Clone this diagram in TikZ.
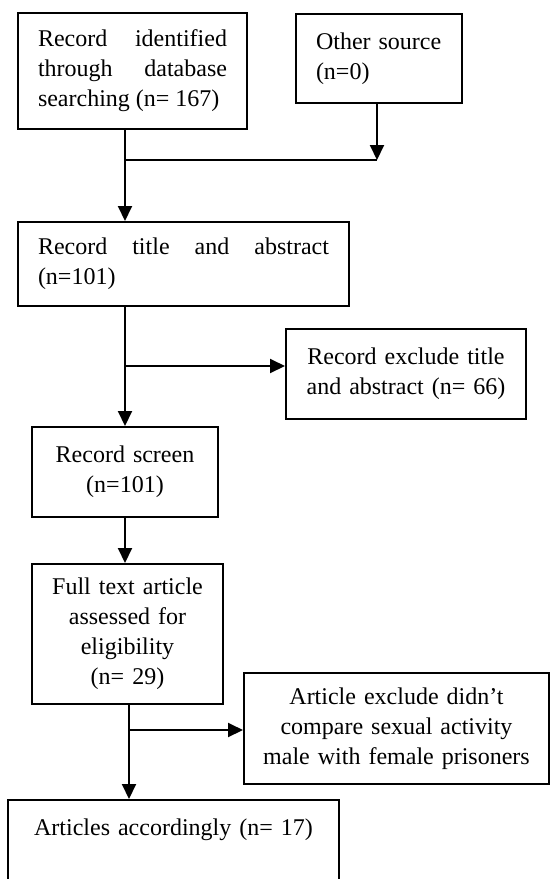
\documentclass[tikz,border=0pt]{standalone}
\usepackage{fontspec}
\setmainfont{Liberation Serif}
\usetikzlibrary{positioning,arrows.meta}
\hyphenpenalty=10000

\begin{document}
\begin{tikzpicture}[x=1pt, y=-1pt,
						stage/.style={rectangle, draw=black!100, line width=2pt, anchor=north west, inner xsep=20pt, inner ysep=0pt, font=\fontsize{24}{30}\selectfont},
						justbox/.style={stage, align=justify},
						leftbox/.style={stage, align=left},
						midbox/.style={stage, align=center},
						arr/.style={line width=2pt, -{Triangle[width=14pt,length=15pt]}}
					]
					\path[use as bounding box, clip] (0,0) rectangle (550,879);
					\node[justbox, text width=189pt, minimum height=116pt] (search) at (17,12) {Record identified\linebreak through database\linebreak searching (n= 167)};
					\node[leftbox, text width=126pt, minimum height=89pt] (other) at (295,13) {Other source\\(n=0)};
					\node[justbox, text width=291pt, minimum height=84pt] (title) at (17,221) {Record title and abstract\linebreak (n=101)};
					\node[midbox, text width=200pt, minimum height=90pt] (exclude1) at (285,328) {Record exclude title\\and abstract (n= 66)};
					\node[midbox, text width=146pt, minimum height=90pt] (screen) at (31,426) {Record screen\\(n=101)};
					\node[midbox, text width=151pt, minimum height=140pt] (full) at (31,563) {Full text article\\assessed for\\eligibility\\(n= 29)};
					\node[midbox, inner xsep=8pt, text width=289pt, minimum height=111pt] (exclude2) at (243,672) {Article exclude didn't\\compare sexual activity\\male with female prisoners};
					\node[midbox, text width=291pt, text height=35pt, text depth=100pt] (final) at (7,799) {Articles accordingly (n= 17)};
					\coordinate (m1) at (125,160);
					\coordinate (m2) at (377,160);
					\coordinate (m3) at (125,366);
					\coordinate (m4) at (129,730);
					\begin{scope}[line width=2pt]
					\draw (search.south -| m1) -- (m1) -- (m2);
					\draw[arr] (other.south -| m2) -- (m2);
					\draw[arr] (m1) -- (title.north -| m1);
					\draw (title.south -| m3) -- (m3);
					\draw[arr] (m3) -- (screen.north -| m3);
					\draw[arr] (m3) -- (exclude1.west |- m3);
					\draw[arr] (screen.south -| m3) -- (full.north -| m3);
					\draw (full.south -| m4) -- (m4);
					\draw[arr] (m4) -- (final.north -| m4);
					\draw[arr] (m4) -- (exclude2.west |- m4);
					\end{scope}
					\end{tikzpicture}
\end{document}
